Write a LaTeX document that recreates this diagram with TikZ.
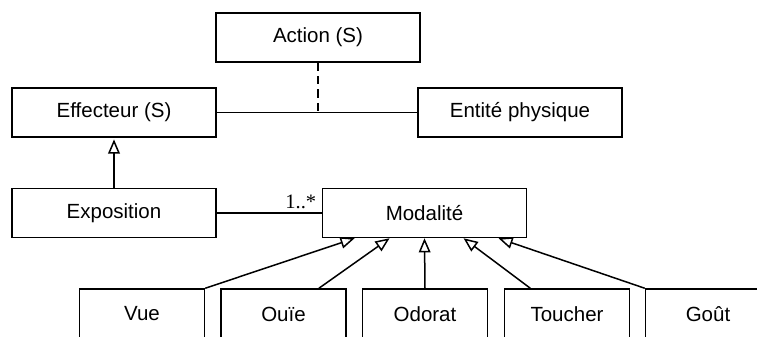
\documentclass[tikz,border=0pt]{standalone}
\usepackage{fontspec}
\setmainfont{Liberation Sans}
\newfontfamily\serifnum{Liberation Serif}
\usetikzlibrary{arrows.meta,calc}

\begin{document}
\begin{tikzpicture}[x=0.6pt,y=-0.6pt,font=\fontsize{12.3}{14}\selectfont,
 >={Triangle[open,length=8.5pt,width=7pt]},line width=0.9pt,
 cls/.style={draw,minimum width=122.4pt,minimum height=29.4pt,inner sep=0pt},
 sens/.style={draw,minimum width=75pt,minimum height=30pt,inner sep=0pt},
 mult/.style={font=\serifnum\fontsize{12.3}{14}\selectfont,inner sep=1pt}]
\useasboundingbox (0,0) rectangle (757,336);
\node[cls] (act) at (318,37.5) {Action (S)};
\node[cls] (eff) at (114,112.5) {Effecteur (S)};\node[cls] (ent) at (520,112.5) {Entité physique};
\node[cls] (expo) at (114,213) {Exposition};\node[cls] (mod) at (424.5,213) {Modalité};
\node[sens] (vue) at (142,314) {Vue};\node[sens] (ouie) at (283.5,314) {Ouïe};
\node[sens] (odo) at (425,314) {Odorat};\node[sens] (tou) at (567,314) {Toucher};
\node[sens] (gou) at (708,314) {Goût};
% association Effecteur -- Entite, classe d'association Action
\draw (eff.east) -- (ent.west);
\coordinate (asso) at (act.south |- eff.east);
\draw[dash pattern=on 5pt off 3pt] (act.south) -- (asso);
% heritage et association de l'exposition
\draw[->,shorten >=1pt] (expo) -- (eff);
\draw (expo.east) -- node[mult,pos=0.8,above,yshift=1pt]{1..*} (mod.west);
% les cinq modalites
\draw[->] (vue.north east) -- ($(mod.south west)!0.16!(mod.south east)$);
\draw[->] ($(ouie.north west)!0.78!(ouie.north east)$) -- ($(mod.south west)!0.33!(mod.south east)$);
\draw[->] (odo.north) -- (mod.south);
\draw[->] ($(tou.north west)!0.21!(tou.north east)$) -- ($(mod.south west)!0.69!(mod.south east)$);
\draw[->] (gou.north west) -- ($(mod.south west)!0.86!(mod.south east)$);
\end{tikzpicture}
\end{document}
